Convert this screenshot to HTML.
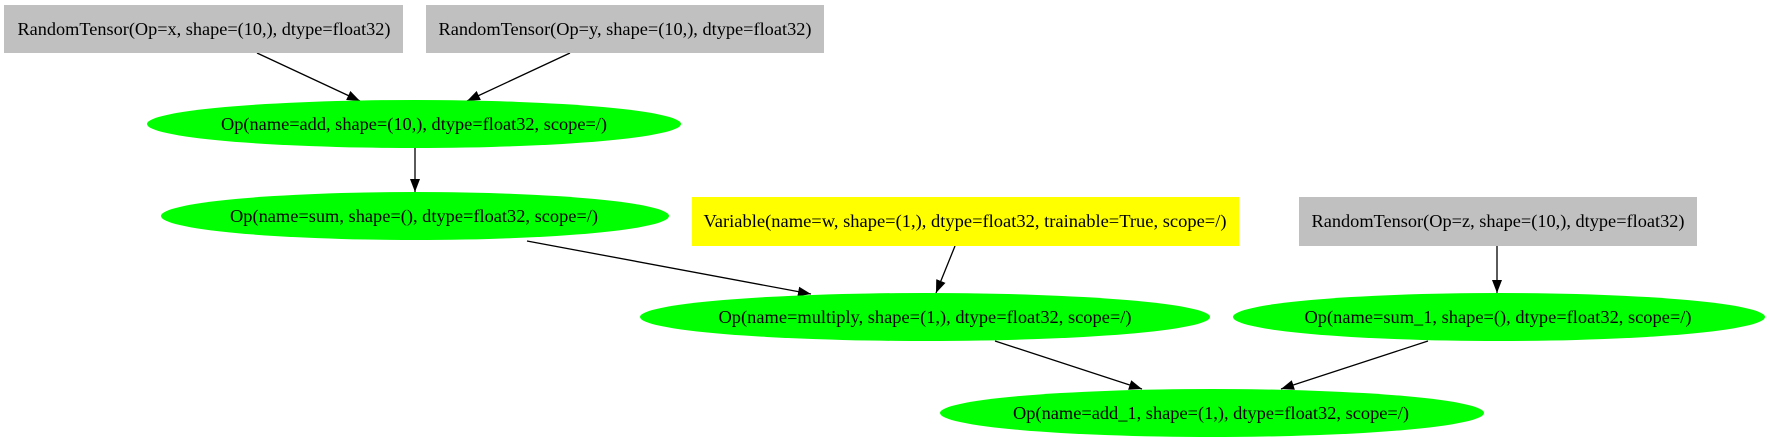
<!DOCTYPE html>
<html><head><meta charset="utf-8"><style>body{margin:0;background:#fff}svg{display:block}</style></head>
<body>
<svg width="1770" height="443" viewBox="0 0 1770 443" xmlns="http://www.w3.org/2000/svg" font-family="Liberation Serif, serif" font-size="18">
<defs><marker id="a" markerWidth="13" markerHeight="10" refX="13" refY="5" orient="auto" markerUnits="userSpaceOnUse"><path d="M0,0L13,5L0,10z" fill="#000"/></marker></defs>
<g stroke="#000" stroke-width="1.3" marker-end="url(#a)">
<line x1="257" y1="53" x2="360" y2="101"/>
<line x1="570" y1="53" x2="467" y2="101"/>
<line x1="415" y1="148" x2="415" y2="192"/>
<line x1="527" y1="241" x2="811" y2="294"/>
<line x1="955" y1="246" x2="936" y2="293"/>
<line x1="1497" y1="246" x2="1497" y2="293"/>
<line x1="995" y1="341" x2="1142" y2="389"/>
<line x1="1428" y1="341" x2="1281" y2="389"/>
</g>
<rect x="4" y="5" width="399" height="48" fill="#c0c0c0"/>
<rect x="426" y="5" width="398" height="48" fill="#c0c0c0"/>
<rect x="692" y="197" width="547" height="49" fill="#ffff00"/>
<rect x="1299" y="197" width="398" height="49" fill="#c0c0c0"/>
<g fill="#00ff00">
<ellipse cx="414" cy="124" rx="267" ry="24"/>
<ellipse cx="415" cy="216" rx="254" ry="24"/>
<ellipse cx="925" cy="317" rx="285" ry="24"/>
<ellipse cx="1499" cy="317" rx="266" ry="24"/>
<ellipse cx="1212" cy="413" rx="272" ry="24"/>
</g>
<g text-anchor="middle" fill="#000">
<text x="204" y="35" textLength="373" lengthAdjust="spacingAndGlyphs">RandomTensor(Op=x, shape=(10,), dtype=float32)</text>
<text x="625" y="35" textLength="373" lengthAdjust="spacingAndGlyphs">RandomTensor(Op=y, shape=(10,), dtype=float32)</text>
<text x="414" y="130" textLength="386" lengthAdjust="spacingAndGlyphs">Op(name=add, shape=(10,), dtype=float32, scope=/)</text>
<text x="414" y="222" textLength="368" lengthAdjust="spacingAndGlyphs">Op(name=sum, shape=(), dtype=float32, scope=/)</text>
<text x="965" y="227" textLength="523" lengthAdjust="spacingAndGlyphs">Variable(name=w, shape=(1,), dtype=float32, trainable=True, scope=/)</text>
<text x="1498" y="227" textLength="373" lengthAdjust="spacingAndGlyphs">RandomTensor(Op=z, shape=(10,), dtype=float32)</text>
<text x="925" y="323" textLength="413" lengthAdjust="spacingAndGlyphs">Op(name=multiply, shape=(1,), dtype=float32, scope=/)</text>
<text x="1498" y="323" textLength="387" lengthAdjust="spacingAndGlyphs">Op(name=sum_1, shape=(), dtype=float32, scope=/)</text>
<text x="1211" y="419" textLength="396" lengthAdjust="spacingAndGlyphs">Op(name=add_1, shape=(1,), dtype=float32, scope=/)</text>
</g>
</svg>
</body></html>
